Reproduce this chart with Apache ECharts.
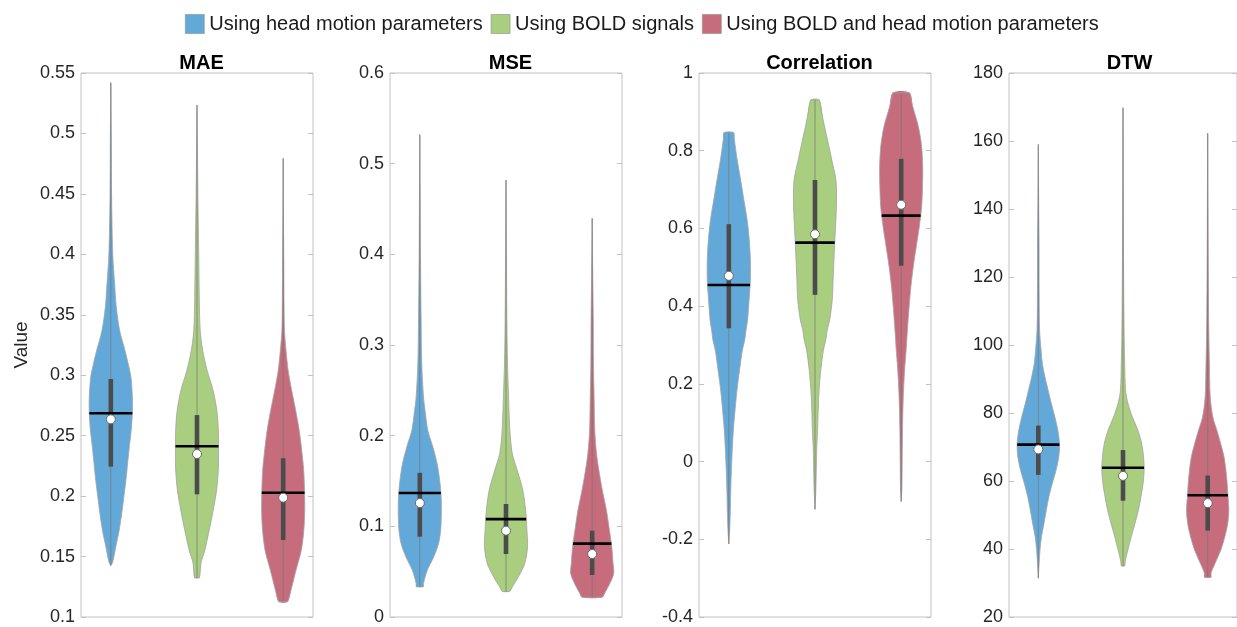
<!DOCTYPE html>
<html>
<head>
<meta charset="utf-8">
<script src="https://cdn.jsdelivr.net/npm/echarts@6/dist/echarts.min.js"></script>
<style>
html, body { margin: 0; padding: 0; background: #ffffff; }
#chart { width: 1237px; height: 627px; }
</style>
</head>
<body>
<div id="chart"></div>
<script>
// Groups and panels
const groups = ['Using head motion parameters', 'Using BOLD signals', 'Using BOLD and head motion parameters'];
const groupColors = ['#62a9d9', '#a9ce7f', '#c66c7c'];
const metrics = ['MAE', 'MSE', 'Correlation', 'DTW'];

// Y axis ranges and tick steps per panel
const yMin = [0.1, 0, -0.4, 20];
const yMax = [0.55, 0.6, 1, 180];
const yStep = [0.05, 0.1, 0.2, 20];

// Violin outlines: [value, relative density (0..1)] from bottom to top
const maeHead = [[0.1425,0],[0.145,0.08],[0.158,0.23],[0.172,0.39],[0.186,0.51],[0.200,0.61],[0.213,0.70],[0.227,0.78],[0.241,0.86],[0.255,0.95],[0.269,1.0],[0.282,1.0],[0.299,0.93],[0.310,0.80],[0.321,0.65],[0.337,0.41],[0.357,0.25],[0.375,0.18],[0.40,0.09],[0.45,0.035],[0.50,0.02],[0.542,0]];
const maeBold = [[0.1325,0.12],[0.145,0.19],[0.155,0.36],[0.172,0.57],[0.188,0.75],[0.205,0.91],[0.222,0.99],[0.238,1.0],[0.255,0.99],[0.271,0.92],[0.288,0.74],[0.304,0.47],[0.321,0.26],[0.337,0.15],[0.36,0.11],[0.40,0.08],[0.45,0.04],[0.50,0.015],[0.5235,0]];
const maeBoth = [[0.1127,0.21],[0.122,0.36],[0.139,0.6],[0.155,0.84],[0.172,0.96],[0.188,1.0],[0.205,0.99],[0.222,0.95],[0.238,0.86],[0.255,0.74],[0.271,0.58],[0.288,0.39],[0.304,0.23],[0.321,0.13],[0.337,0.06],[0.36,0.04],[0.40,0.025],[0.44,0.01],[0.4794,0]];

const mseHead = [[0.0334,0.17],[0.037,0.17],[0.0518,0.35],[0.0665,0.65],[0.081,0.87],[0.096,0.97],[0.1144,1.0],[0.1327,0.99],[0.151,0.92],[0.1695,0.8],[0.188,0.6],[0.206,0.37],[0.2247,0.26],[0.243,0.17],[0.28,0.09],[0.328,0.06],[0.40,0.03],[0.47,0.015],[0.532,0]];
const mseBold = [[0.028,0.17],[0.0334,0.3],[0.0445,0.58],[0.059,0.87],[0.0775,1.0],[0.096,0.97],[0.118,0.91],[0.140,0.78],[0.162,0.52],[0.1805,0.29],[0.206,0.18],[0.243,0.12],[0.28,0.07],[0.328,0.04],[0.40,0.02],[0.482,0]];
const mseBoth = [[0.0217,0.47],[0.028,0.62],[0.037,0.82],[0.048,1.0],[0.059,0.97],[0.0775,0.91],[0.096,0.8],[0.118,0.66],[0.140,0.47],[0.162,0.31],[0.1805,0.2],[0.206,0.12],[0.243,0.09],[0.28,0.06],[0.328,0.05],[0.38,0.025],[0.4397,0]];

const corHead = [[-0.212,0],[-0.176,0.04],[-0.1246,0.07],[-0.073,0.09],[-0.0216,0.12],[0.030,0.16],[0.081,0.21],[0.133,0.29],[0.184,0.38],[0.236,0.5],[0.287,0.63],[0.313,0.74],[0.339,0.8],[0.364,0.87],[0.416,0.94],[0.467,1.0],[0.519,1.0],[0.570,0.95],[0.622,0.85],[0.673,0.7],[0.7247,0.55],[0.776,0.39],[0.8276,0.26],[0.847,0.23]];
const corBold = [[-0.123,0],[-0.073,0.04],[-0.0216,0.06],[0.030,0.08],[0.081,0.12],[0.133,0.15],[0.184,0.19],[0.236,0.27],[0.287,0.39],[0.313,0.5],[0.339,0.57],[0.364,0.68],[0.416,0.8],[0.467,0.84],[0.519,0.88],[0.570,0.92],[0.622,0.97],[0.673,1.0],[0.725,0.97],[0.776,0.78],[0.828,0.58],[0.879,0.38],[0.9305,0.21]];
const corBoth = [[-0.103,0],[-0.073,0.03],[-0.004,0.045],[0.081,0.06],[0.133,0.08],[0.184,0.11],[0.236,0.16],[0.287,0.23],[0.339,0.29],[0.399,0.37],[0.45,0.45],[0.501,0.56],[0.553,0.7],[0.604,0.84],[0.656,0.95],[0.707,0.99],[0.759,1.0],[0.81,0.95],[0.862,0.8],[0.913,0.54],[0.949,0.39]];

const dtwHead = [[31.4,0],[35.8,0.04],[39.7,0.08],[43.6,0.15],[47.6,0.27],[51.5,0.38],[55.4,0.5],[59.3,0.66],[63.2,0.84],[67.2,0.97],[71.1,1.0],[75.0,0.92],[78.9,0.78],[82.9,0.61],[86.8,0.46],[90.7,0.31],[94.6,0.19],[98.5,0.13],[104.4,0.06],[115,0.04],[130,0.035],[140,0.02],[150,0.01],[159,0]];
const dtwBold = [[35.0,0.08],[36.8,0.12],[39.7,0.23],[43.6,0.39],[47.6,0.57],[51.5,0.73],[55.4,0.85],[59.3,0.95],[63.2,1.0],[67.2,0.97],[71.1,0.88],[75.0,0.7],[78.9,0.44],[82.9,0.23],[86.8,0.12],[94.6,0.08],[104.4,0.05],[120,0.03],[145,0.015],[169.8,0]];
const dtwBoth = [[31.7,0.16],[33.0,0.16],[35.8,0.35],[39.7,0.62],[43.6,0.81],[47.6,0.95],[51.5,1.0],[55.4,0.96],[59.3,0.92],[63.2,0.86],[67.2,0.77],[71.1,0.61],[75.0,0.43],[78.9,0.24],[84.8,0.12],[94.6,0.08],[104.4,0.05],[120,0.03],[140,0.015],[162.3,0]];

// Summary statistics per panel (head, BOLD, both)
const maeMean = [0.2685, 0.2412, 0.2028];
const maeMedian = [0.2635, 0.2348, 0.1987];
const maeQ1 = [0.2244, 0.2015, 0.1637];
const maeQ3 = [0.2969, 0.2670, 0.2313];

const mseMean = [0.1367, 0.108, 0.0809];
const mseMedian = [0.1257, 0.0952, 0.0695];
const mseQ1 = [0.0886, 0.0695, 0.0463];
const mseQ3 = [0.159, 0.1246, 0.0952];

const corMean = [0.4545, 0.5634, 0.633];
const corMedian = [0.478, 0.585, 0.661];
const corQ1 = [0.343, 0.429, 0.504];
const corQ3 = [0.611, 0.7247, 0.779];

const dtwMean = [70.7, 63.9, 55.8];
const dtwMedian = [69.3, 61.5, 53.5];
const dtwQ1 = [61.8, 54.2, 45.4];
const dtwQ3 = [76.3, 69.1, 61.6];

const shapes = [[maeHead, maeBold, maeBoth], [mseHead, mseBold, mseBoth], [corHead, corBold, corBoth], [dtwHead, dtwBold, dtwBoth]];
const means = [maeMean, mseMean, corMean, dtwMean];
const medians = [maeMedian, mseMedian, corMedian, dtwMedian];
const q1s = [maeQ1, mseQ1, corQ1, dtwQ1];
const q3s = [maeQ3, mseQ3, corQ3, dtwQ3];

// Layout
const FONT = 'Liberation Sans, Arial, Helvetica, sans-serif';
const panelLeft = [81, 390, 699, 1009];
const panelWidth = 232;
const gridTop = 73;
const gridHeight = 544;
const HALF = 0.25;          // max half-width of a violin in x units
const X_MIN = 0.654, X_MAX = 3.346;
const EDGE = '#a3a3a3';

function widthAt(shape, v) {
  if (v <= shape[0][0]) return shape[0][1];
  for (let i = 1; i < shape.length; i++) {
    if (v <= shape[i][0]) {
      const [v0, w0] = shape[i - 1], [v1, w1] = shape[i];
      return w0 + (w1 - w0) * (v - v0) / (v1 - v0);
    }
  }
  return shape[shape.length - 1][1];
}

function makeViolin(p, g) {
  const shape = shapes[p][g];
  const mean = means[p][g], q1 = q1s[p][g], q3 = q3s[p][g];
  const fill = groupColors[g];
  return function (params, api) {
    const pos = api.value(0);
    const med = api.value(1);
    const right = shape.map(([v, w]) => api.coord([pos + w * HALF, v]));
    const leftUp = shape.map(([v, w]) => api.coord([pos - w * HALF, v]));
    const left = leftUp.slice().reverse();
    const n = shape.length;
    const bottom = api.coord([pos, shape[0][0]]);
    const top = api.coord([pos, shape[n - 1][0]]);
    const iqrTop = api.coord([pos, q3]);
    const iqrBot = api.coord([pos, q1]);
    const mw = widthAt(shape, mean) * HALF;
    const mL = api.coord([pos - mw, mean]);
    const mR = api.coord([pos + mw, mean]);
    const mc = api.coord([pos, med]);
    const edgeStyle = { fill: null, stroke: EDGE, lineWidth: 0.8 };
    return {
      type: 'group',
      children: [
        // body fill
        { type: 'polygon', shape: { points: right.concat(left), smooth: 0.3 },
          style: { fill: fill, stroke: null } },
        // outline: both sides plus flat ends
        { type: 'polyline', shape: { points: right, smooth: 0.3 }, style: edgeStyle },
        { type: 'polyline', shape: { points: leftUp, smooth: 0.3 }, style: edgeStyle },
        { type: 'line', shape: { x1: leftUp[0][0], y1: leftUp[0][1], x2: right[0][0], y2: right[0][1] }, style: edgeStyle },
        { type: 'line', shape: { x1: leftUp[n - 1][0], y1: leftUp[n - 1][1], x2: right[n - 1][0], y2: right[n - 1][1] }, style: edgeStyle },
        // whisker through the full range
        { type: 'line', shape: { x1: bottom[0], y1: bottom[1], x2: top[0], y2: top[1] },
          style: { stroke: 'rgba(120,120,120,0.75)', lineWidth: 1 } },
        // interquartile bar
        { type: 'line', shape: { x1: iqrBot[0], y1: iqrBot[1], x2: iqrTop[0], y2: iqrTop[1] },
          style: { stroke: '#4b4b4b', lineWidth: 4.6 } },
        // mean line across the violin
        { type: 'line', shape: { x1: mL[0], y1: mL[1], x2: mR[0], y2: mR[1] },
          style: { stroke: '#000000', lineWidth: 2.6 } },
        // median marker
        { type: 'circle', shape: { cx: mc[0], cy: mc[1], r: 4.5 },
          style: { fill: '#ffffff', stroke: '#6a6a6a', lineWidth: 1 } }
      ]
    };
  };
}

const grids = [], xAxes = [], yAxes = [], series = [], titles = [];
for (let p = 0; p < metrics.length; p++) {
  grids.push({ left: panelLeft[p], top: gridTop, width: panelWidth, height: gridHeight,
    show: true, borderColor: '#c2c2c2', borderWidth: 1, backgroundColor: 'transparent' });
  xAxes.push({ type: 'value', gridIndex: p, min: X_MIN, max: X_MAX,
    axisLine: { show: false }, axisTick: { show: false }, axisLabel: { show: false }, splitLine: { show: false } });
  const yBase = { type: 'value', gridIndex: p, min: yMin[p], max: yMax[p], interval: yStep[p],
    splitLine: { show: false }, axisLine: { show: false },
    axisTick: { show: true, inside: true, length: 5, lineStyle: { color: '#c2c2c2', width: 1 } } };
  yAxes.push(Object.assign({}, yBase, {
    position: 'left',
    axisLabel: { show: true, fontSize: 18, color: '#262626', fontFamily: FONT, margin: 6 },
    name: p === 0 ? 'Value' : '',
    nameLocation: 'middle', nameGap: 50,
    nameTextStyle: { fontSize: 19, color: '#262626', fontFamily: FONT }
  }));
  yAxes.push(Object.assign({}, yBase, { position: 'right', axisLabel: { show: false } }));
  titles.push({ text: metrics[p], left: panelLeft[p] + 115.5, top: 48, textAlign: 'center',
    textStyle: { fontSize: 20, fontWeight: 'bold', color: '#000000', fontFamily: FONT } });
  for (let g = 0; g < groups.length; g++) {
    series.push({
      name: groups[g], type: 'custom', xAxisIndex: p, yAxisIndex: p * 2,
      itemStyle: { color: groupColors[g] },
      renderItem: makeViolin(p, g),
      data: [[g + 1, medians[p][g]]],
      silent: true, animation: false, clip: false
    });
  }
}

const chart = echarts.init(document.getElementById('chart'), null, { renderer: 'canvas' });
chart.setOption({
  backgroundColor: '#ffffff',
  animation: false,
  title: titles,
  legend: {
    data: groups, left: 180, top: 9, icon: 'rect', itemWidth: 19, itemHeight: 19, itemGap: 8,
    textStyle: { fontSize: 20, color: '#1a1a1a', fontFamily: FONT },
    itemStyle: { borderColor: '#8f8f8f', borderWidth: 0.6 }
  },
  grid: grids,
  xAxis: xAxes,
  yAxis: yAxes,
  series: series
});
</script>
</body>
</html>
